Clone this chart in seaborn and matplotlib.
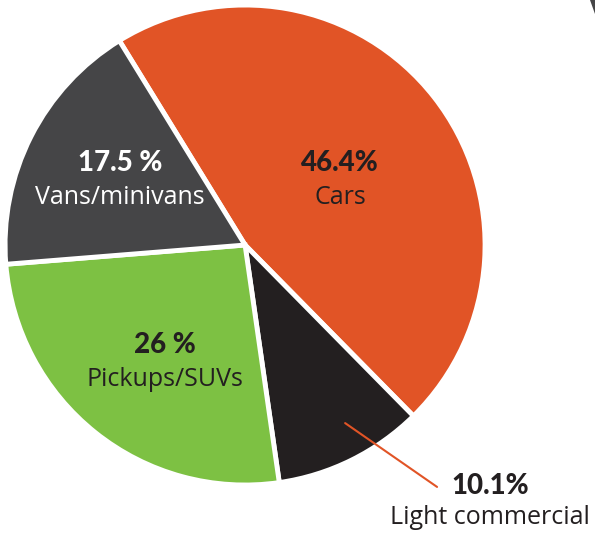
import numpy as np
import matplotlib
matplotlib.use("Agg")
import matplotlib.pyplot as plt
from matplotlib.patches import Polygon
import seaborn as sns

# Vehicle mix shares
categories = ["Cars", "Light commercial", "Pickups/SUVs", "Vans/minivans"]
shares = [46.4, 10.1, 26.0, 17.5]
pct_labels = ["46.4%", "10.1%", "26 %", "17.5 %"]
colors = ["#E15426", "#231F20", "#7DC143", "#454547"]

sns.set_theme(style="white")
plt.rcParams["font.family"] = ["Open Sans", "DejaVu Sans"]

fig = plt.figure(figsize=(5.95, 5.33), dpi=100)
ax = fig.add_axes([0, 0, 1, 1])

wedges, _ = ax.pie(shares, colors=colors, startangle=121.6, counterclock=False,
                   radius=1.0, wedgeprops=dict(edgecolor="white", linewidth=3.5))

ax.set_xlim(-1.021, 1.458)
ax.set_ylim(-1.2, 1.021)
ax.set_aspect("equal")
ax.axis("off")

# label centres (data units) and text colour
label_pos = {0: (0.396, 0.271, "#231F20"),
             2: (-0.333, -0.487, "#231F20"),
             3: (-0.521, 0.271, "white"),
             1: (1.02, -1.07, "#231F20")}
for i, (x, y, tc) in label_pos.items():
    dy = 0.072 if i != 1 else 0.065
    ax.text(x, y + dy, pct_labels[i], ha="center", va="center",
            fontsize=20, fontweight=900, color=tc, family=["Lato", "DejaVu Sans"])
    ax.text(x, y - dy, categories[i], ha="center", va="center",
            fontsize=18, color=tc)

# light commercial callout
ax.plot([0.417, 0.80], [-0.742, -1.008], color="#E15426", lw=1.5)

# sliver of a neighbouring graphic at top-right
fig.patches.append(Polygon([(590, 533), (595, 533), (595, 519)], closed=True,
                           transform=None, facecolor="#454547", edgecolor="none"))

fig.savefig("out.png", dpi=100)
